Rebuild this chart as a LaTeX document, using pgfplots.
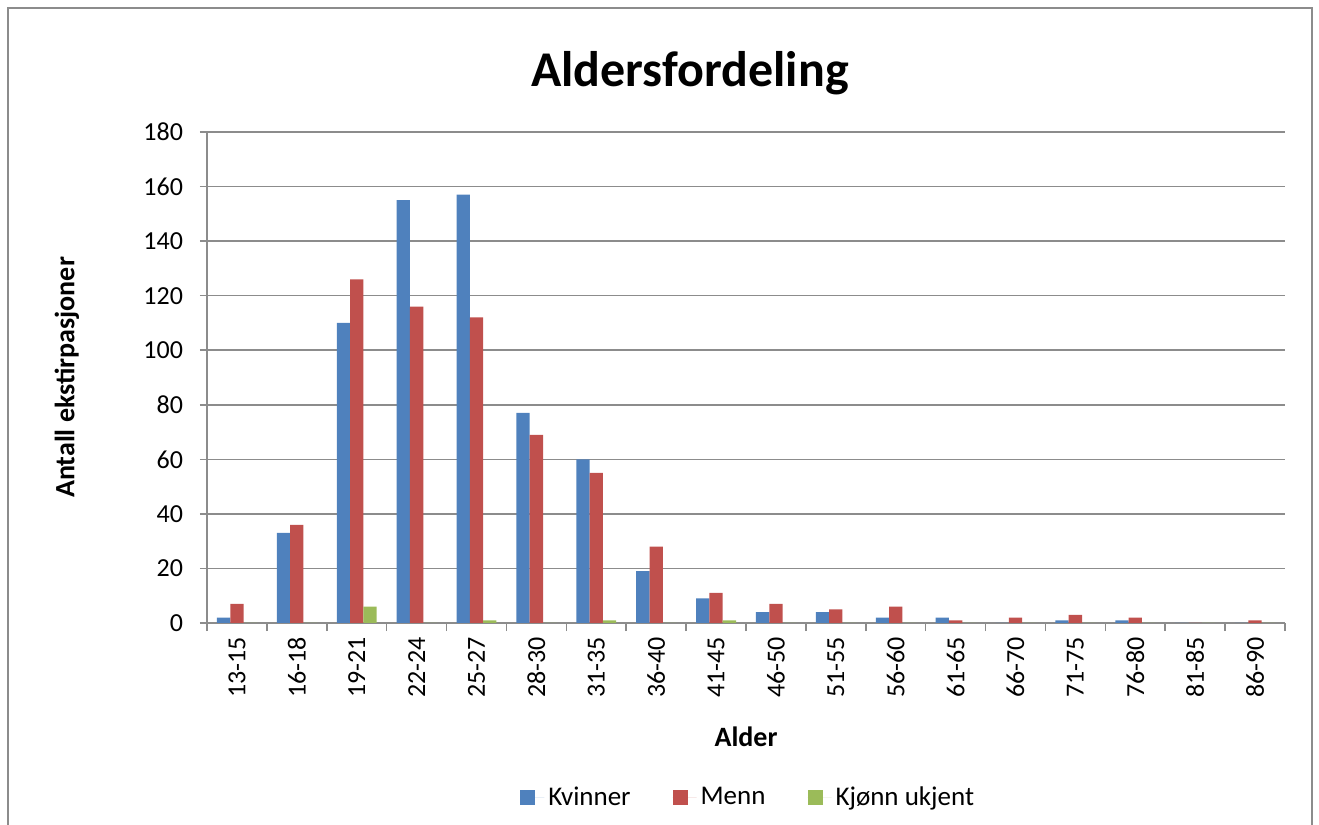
\documentclass[border=0pt]{standalone}
\usepackage{pgfplots}
\pgfplotsset{compat=1.18}
\usepackage{fontspec}
\setmainfont{Carlito}
\definecolor{cK}{HTML}{4F81BD}
\definecolor{cM}{HTML}{C0504D}
\definecolor{cU}{HTML}{9BBB59}
\definecolor{gridc}{HTML}{8C8C8C}
\begin{document}
\begin{tikzpicture}
\useasboundingbox (-103.5pt,-101pt) rectangle (556pt,311.5pt);
\draw[gridc, line width=1pt] (-99.5pt,-110pt) rectangle (552.5pt,307.5pt);
\begin{axis}[
  at={(0pt,0pt)}, anchor=south west,
  scale only axis, width=539pt, height=245.5pt,
  ybar=0pt, bar width=6.65pt,
  xmin=-0.5, xmax=17.5, ymin=0, ymax=180,
  ytick={0,20,...,180},
  xtick={0,...,17},
  xticklabels={13-15,16-18,19-21,22-24,25-27,28-30,31-35,36-40,41-45,46-50,51-55,56-60,61-65,66-70,71-75,76-80,81-85,86-90},
  minor xtick={-0.5,0.5,...,17.5},
  x tick label style={rotate=90, anchor=east, font=\fontsize{13}{15}\selectfont},
  y tick label style={font=\fontsize{13}{15}\selectfont, xshift=-5pt},
  /pgf/number format/assume math mode=true,
  major x tick style={draw=none},
  tick align=outside,
  major tick length=3.5pt, minor tick length=4pt,
  tick style={gridc, line width=0.8pt},
  axis lines*=left,
  axis line style={gridc, line width=0.8pt},
  ymajorgrids, grid style={gridc, line width=0.8pt},
  xlabel={\textbf{Alder}}, ylabel={\textbf{Antall ekstirpasjoner}},
  label style={font=\fontsize{14}{16}\selectfont},
  xlabel style={at={(axis description cs:0.5,-0.232)}, anchor=center},
  ylabel style={at={(axis description cs:-0.13,0.5)}, anchor=center},
  title={\textbf{Aldersfordeling}},
  title style={font=\fontsize{25}{30}\selectfont, at={(axis description cs:0.448,1.095)}, anchor=center},
  legend columns=3,
  legend style={draw=none, at={(axis description cs:0.503,-0.356)}, anchor=center, font=\fontsize{13.5}{16}\selectfont,
    /tikz/every even column/.append style={column sep=19pt}},
  legend image code/.code={\fill[#1] (0pt,-3.75pt) rectangle (7.5pt,3.75pt); \path (0pt,0pt) -- (12pt,0pt);},
  clip=false,
]
\addplot[fill=cK, draw=none] coordinates {(0,2)(1,33)(2,110)(3,155)(4,157)(5,77)(6,60)(7,19)(8,9)(9,4)(10,4)(11,2)(12,2)(13,0)(14,1)(15,1)(16,0)(17,0)};
\addplot[fill=cM, draw=none] coordinates {(0,7)(1,36)(2,126)(3,116)(4,112)(5,69)(6,55)(7,28)(8,11)(9,7)(10,5)(11,6)(12,1)(13,2)(14,3)(15,2)(16,0)(17,1)};
\addplot[fill=cU, draw=none] coordinates {(0,0)(1,0)(2,6)(3,0)(4,1)(5,0)(6,1)(7,0)(8,1)(9,0)(10,0)(11,0)(12,0)(13,0)(14,0)(15,0)(16,0)(17,0)};
\legend{Kvinner,Menn,Kjønn ukjent}
\end{axis}
\end{tikzpicture}
\end{document}
